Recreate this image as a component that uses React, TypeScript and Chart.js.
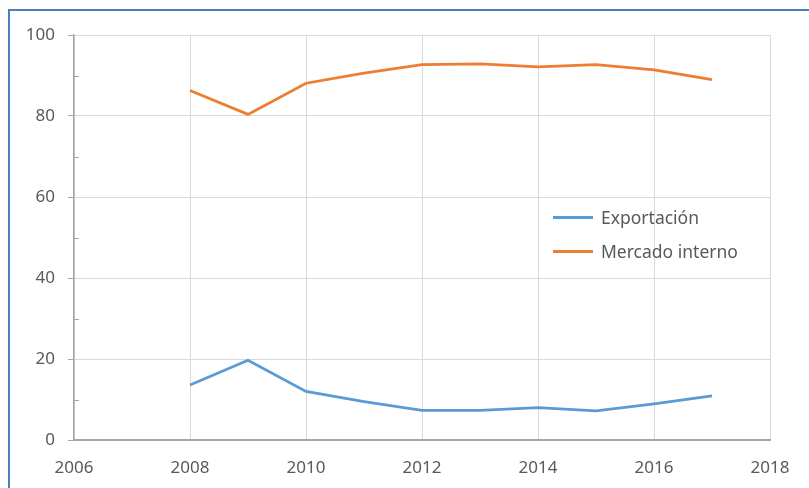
import React, { useEffect, useRef } from "react";
import { Chart, registerables } from "chart.js";

Chart.register(...registerables);

const years = [2008, 2009, 2010, 2011, 2012, 2013, 2014, 2015, 2016, 2017];
const exportacion = [13.6, 19.7, 12.0, 9.5, 7.3, 7.3, 8.0, 7.2, 8.9, 10.9];
const mercadoInterno = [86.3, 80.4, 88.1, 90.6, 92.7, 92.9, 92.1, 92.7, 91.4, 89.0];
const minorTicks = [10, 30, 50, 70, 90];
const seriesNames = ["Exportación", "Mercado interno"];
const seriesColors = ["#5b9bd5", "#ed7d31"];

const FONT = "'Noto Sans', 'Open Sans', sans-serif";

const minorTickPlugin = {
  id: "minorTicks",
  afterDraw(chart: any) {
    const y = chart.scales.y;
    const ctx = chart.ctx;
    const left = chart.chartArea.left;
    ctx.save();
    ctx.strokeStyle = "#a6a6a6";
    ctx.lineWidth = 1;
    for (const v of minorTicks) {
      const py = Math.round(y.getPixelForValue(v)) + 0.5;
      ctx.beginPath();
      ctx.moveTo(left, py);
      ctx.lineTo(left + 5, py);
      ctx.stroke();
    }
    ctx.restore();
  },
};

export default function App() {
  const ref = useRef<HTMLCanvasElement>(null);
  useEffect(() => {
    if (!ref.current) return;
    const chart = new Chart(ref.current, {
      type: "line",
      data: {
        datasets: [
          {
            label: seriesNames[0],
            data: years.map((x, i) => ({ x, y: exportacion[i] })),
            borderColor: seriesColors[0],
            backgroundColor: seriesColors[0],
            borderWidth: 2.75,
            pointRadius: 0,
            tension: 0,
          },
          {
            label: seriesNames[1],
            data: years.map((x, i) => ({ x, y: mercadoInterno[i] })),
            borderColor: seriesColors[1],
            backgroundColor: seriesColors[1],
            borderWidth: 2.75,
            pointRadius: 0,
            tension: 0,
          },
        ],
      },
      options: {
        animation: false,
        responsive: false,
        maintainAspectRatio: false,
        layout: { padding: { left: 0, top: 35, right: 39, bottom: 0 } },
        plugins: { legend: { display: false }, tooltip: { enabled: false } },
        scales: {
          x: {
            type: "linear",
            min: 2006,
            max: 2018,
            ticks: {
              stepSize: 2,
              color: "#595959",
              font: { family: FONT, size: 17 },
              padding: 18,
              maxRotation: 0,
              callback: (v: any) => String(v),
            },
            grid: { color: "#d9d9d9", lineWidth: 1, drawTicks: false },
            border: { color: "#a6a6a6", width: 2 },
            afterFit: (s: any) => {
              s.height = 48;
            },
          },
          y: {
            min: 0,
            max: 100,
            ticks: {
              stepSize: 20,
              color: "#595959",
              font: { family: FONT, size: 17 },
              padding: 13,
            },
            grid: { color: "#d9d9d9", lineWidth: 1, tickLength: 6, tickColor: "#a6a6a6" },
            border: { color: "#a6a6a6", width: 1.5 },
            afterFit: (s: any) => {
              s.width = 74;
            },
          },
        },
      },
      plugins: [minorTickPlugin],
    });
    return () => chart.destroy();
  }, []);

  const legendItem = (i: number, top: number) => (
    <div
      key={i}
      style={{
        position: "absolute",
        left: 553,
        top: top - 12,
        height: 24,
        display: "flex",
        alignItems: "center",
        fontFamily: FONT,
        fontSize: 17.5,
        color: "#595959",
        whiteSpace: "nowrap",
      }}
    >
      <div style={{ width: 40, height: 3, background: seriesColors[i], marginRight: 8 }} />
      <span>{seriesNames[i]}</span>
    </div>
  );

  return (
    <div
      style={{
        position: "fixed",
        left: 0,
        top: 0,
        width: 809,
        height: 488,
        overflow: "hidden",
        background: "#ffffff",
      }}
    >
      <canvas ref={ref} width={809} height={488} style={{ position: "absolute", left: 0, top: 0 }} />
      <div
        style={{
          position: "absolute",
          left: 8,
          top: 9,
          width: 900,
          height: 600,
          borderLeft: "2px solid #4a7ebb",
          borderTop: "2px solid #4a7ebb",
          pointerEvents: "none",
        }}
      />
      {legendItem(0, 217)}
      {legendItem(1, 251)}
    </div>
  );
}
